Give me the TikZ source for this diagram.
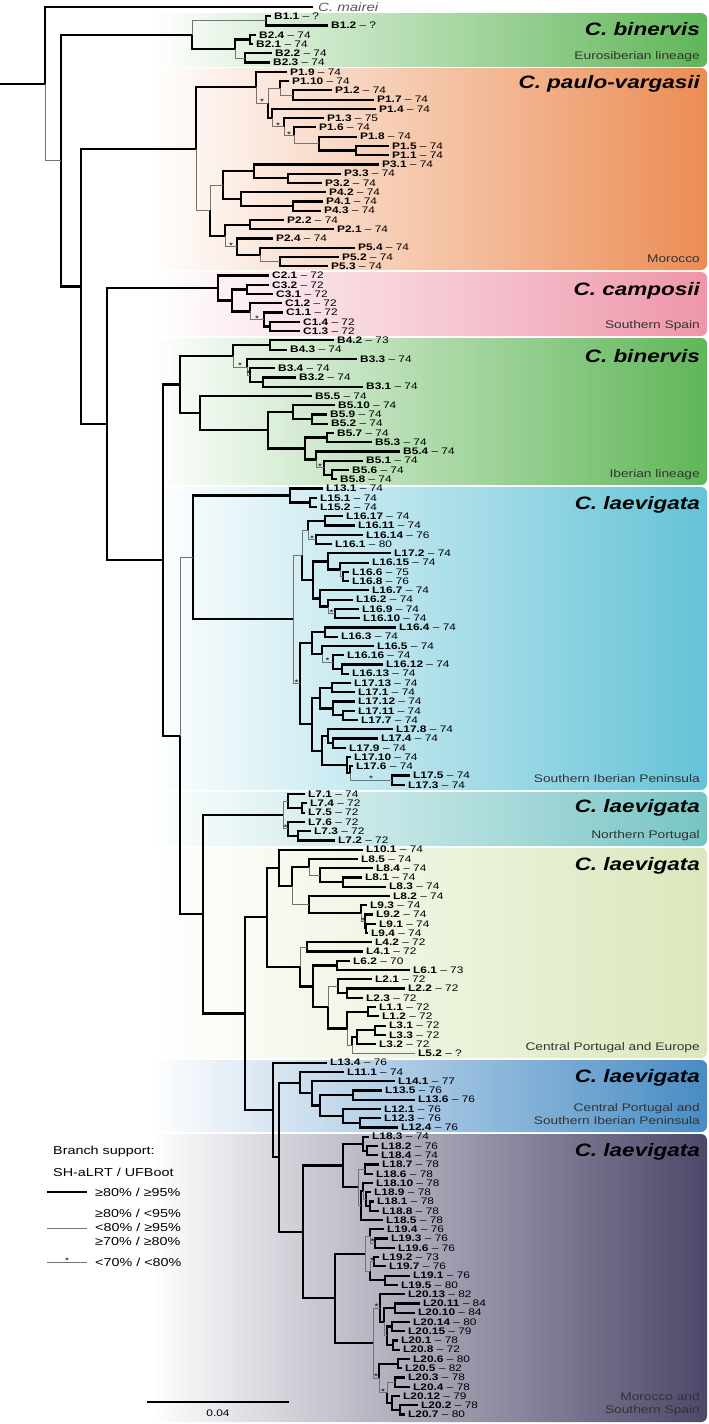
\documentclass[tikz,border=0pt]{standalone}
\usepackage{fontspec}
\setmainfont{Liberation Sans}[FakeStretch=1.25]
\usetikzlibrary{calc, positioning}

\definecolor{eurogreen}{RGB}{96,182,88}
\definecolor{paulo}{RGB}{236,140,84}
\definecolor{campo}{RGB}{238,150,170}
\definecolor{ibergreen}{RGB}{96,182,88}
\definecolor{laesouth}{RGB}{100,195,215}
\definecolor{laenorth}{RGB}{118,196,196}
\definecolor{laecentre}{RGB}{218,232,188}
\definecolor{laeblue}{RGB}{72,140,196}
\definecolor{laemor}{RGB}{76,72,106}

% tip: name, x of branch end, row, label, value
\newcommand\tip[5]{%
  \coordinate (#1) at (#2,{7+9.26*#3});
  \node[tiplab] (#1-l) at (#1) {\textbf{#4} -- #5};}
% clade: name, x, first child, its branch, second child, its branch
\newcommand\clade[6]{%
  \path let \p1=(#3), \p2=(#5) in coordinate (#1) at (#2pt,{(\y1+\y2)/2});
  \draw[#4] (#1) |- (#3);
  \draw[#6] (#1) |- (#5);}
% low support mark on the branch from #1 to #2
\newcommand\supp[2]{\node[supp] (#2-s) at ($(#2 -| #1)!.5!(#2)$) {*};}

\begin{document}
\begin{tikzpicture}[x=1pt, y=-1pt,
  strong/.style={line width=2.2pt, black},
  weak/.style={line width=0.8pt, draw=black!55},
  tiplab/.style={anchor=west, inner sep=0pt, xshift=3pt, font=\fontsize{9.5}{10}\selectfont},
  supp/.style={inner sep=0pt, yshift=1pt, font=\fontsize{8}{8}\selectfont},
  band/.style={left color=white, right color=#1, rounded corners=6pt},
  cladetitle/.style={anchor=east, inner sep=0pt, font=\bfseries\itshape\fontsize{18}{18}\selectfont},
  cladearea/.style={anchor=east, inner sep=0pt, align=right, text=black!80, font=\fontsize{11}{13}\selectfont},
  legtext/.style={anchor=west, inner sep=0pt, align=left, font=\fontsize{11.5}{14}\selectfont}
]
\useasboundingbox (0,0) rectangle (709,1424);

% Bands
\shade[band=eurogreen] (150,13) rectangle (707,67);
\shade[band=paulo] (150,68) rectangle (707,270);
\shade[band=campo] (150,272) rectangle (707,336);
\shade[band=ibergreen] (150,338) rectangle (707,485);
\shade[band=laesouth] (150,487) rectangle (707,790);
\shade[band=laenorth] (150,792) rectangle (707,846);
\shade[band=laecentre] (150,848) rectangle (707,1058);
\shade[band=laeblue] (150,1060) rectangle (707,1132);
\shade[band=laemor] (150,1134) rectangle (707,1422);

\node[cladetitle] (t1) at (700,29) {C. binervis};
\node[cladearea] (a1) at (700,57) {Eurosiberian lineage};
\node[cladetitle] (t2) at (700,84) {C. paulo-vargasii};
\node[cladearea] (a2) at (700,259) {Morocco};
\node[cladetitle] (t3) at (700,291) {C. camposii};
\node[cladearea] (a3) at (700,326) {Southern Spain};
\node[cladetitle] (t4) at (700,356) {C. binervis};
\node[cladearea] (a4) at (700,475) {Iberian lineage};
\node[cladetitle] (t5) at (700,505) {C. laevigata};
\node[cladearea] (a5) at (700,779) {Southern Iberian Peninsula};
\node[cladetitle] (t6) at (700,808) {C. laevigata};
\node[cladearea] (a6) at (700,836) {Northern Portugal};
\node[cladetitle] (t7) at (700,866) {C. laevigata};
\node[cladearea] (a7) at (700,1048) {Central Portugal and Europe};
\node[cladetitle] (t8) at (700,1078) {C. laevigata};
\node[cladearea] (a8) at (700,1114) {Central Portugal and\\Southern Iberian Peninsula};
\node[cladetitle] (t9) at (700,1152) {C. laevigata};
\node[cladearea] (a9) at (700,1404) {Morocco and\\Southern Spain};

% Tips
\coordinate (mai) at (313,7);
\node[anchor=west, inner sep=0pt, text=black!65, font=\itshape\fontsize{12}{12}\selectfont] (mai-l) at ([xshift=5pt]mai) {C. mairei};
\tip{B1-1}{271}{1}{B1.1}{?}
\tip{B1-2}{328}{2}{B1.2}{?}
\tip{B2-4}{256}{3}{B2.4}{74}
\tip{B2-1}{253}{4}{B2.1}{74}
\tip{B2-2}{272}{5}{B2.2}{74}
\tip{B2-3}{270}{6}{B2.3}{74}
\tip{P1-9}{287}{7}{P1.9}{74}
\tip{P1-10}{289}{8}{P1.10}{74}
\tip{P1-2}{332}{9}{P1.2}{74}
\tip{P1-7}{374}{10}{P1.7}{74}
\tip{P1-4}{376}{11}{P1.4}{74}
\tip{P1-3}{324}{12}{P1.3}{75}
\tip{P1-6}{316}{13}{P1.6}{74}
\tip{P1-8}{357}{14}{P1.8}{74}
\tip{P1-5}{389}{15}{P1.5}{74}
\tip{P1-1}{389}{16}{P1.1}{74}
\tip{P3-1}{379}{17}{P3.1}{74}
\tip{P3-3}{341}{18}{P3.3}{74}
\tip{P3-2}{322}{19}{P3.2}{74}
\tip{P4-2}{326}{20}{P4.2}{74}
\tip{P4-1}{323}{21}{P4.1}{74}
\tip{P4-3}{321}{22}{P4.3}{74}
\tip{P2-2}{284}{23}{P2.2}{74}
\tip{P2-1}{334}{24}{P2.1}{74}
\tip{P2-4}{273}{25}{P2.4}{74}
\tip{P5-4}{355}{26}{P5.4}{74}
\tip{P5-2}{339}{27}{P5.2}{74}
\tip{P5-3}{328}{28}{P5.3}{74}
\tip{C2-1}{269}{29}{C2.1}{72}
\tip{C3-2}{269}{30}{C3.2}{72}
\tip{C3-1}{273}{31}{C3.1}{72}
\tip{C1-2}{282}{32}{C1.2}{72}
\tip{C1-1}{283}{33}{C1.1}{72}
\tip{C1-4}{300}{34}{C1.4}{72}
\tip{C1-3}{300}{35}{C1.3}{72}
\tip{B4-2}{334}{36}{B4.2}{73}
\tip{B4-3}{287}{37}{B4.3}{74}
\tip{B3-3}{357}{38}{B3.3}{74}
\tip{B3-4}{275}{39}{B3.4}{74}
\tip{B3-2}{296}{40}{B3.2}{74}
\tip{B3-1}{363}{41}{B3.1}{74}
\tip{B5-5}{312}{42}{B5.5}{74}
\tip{B5-10}{335}{43}{B5.10}{74}
\tip{B5-9}{327}{44}{B5.9}{74}
\tip{B5-2}{328}{45}{B5.2}{74}
\tip{B5-7}{334}{46}{B5.7}{74}
\tip{B5-3}{372}{47}{B5.3}{74}
\tip{B5-4}{400}{48}{B5.4}{74}
\tip{B5-1}{363}{49}{B5.1}{74}
\tip{B5-6}{349}{50}{B5.6}{74}
\tip{B5-8}{337}{51}{B5.8}{74}
\tip{L13-1}{323}{52}{L13.1}{74}
\tip{L15-1}{317}{53}{L15.1}{74}
\tip{L15-2}{317}{54}{L15.2}{74}
\tip{L16-17}{343}{55}{L16.17}{74}
\tip{L16-11}{355}{56}{L16.11}{74}
\tip{L16-14}{363}{57}{L16.14}{76}
\tip{L16-1}{332}{58}{L16.1}{80}
\tip{L17-2}{391}{59}{L17.2}{74}
\tip{L16-15}{369}{60}{L16.15}{74}
\tip{L16-6}{349}{61}{L16.6}{75}
\tip{L16-8}{349}{62}{L16.8}{76}
\tip{L16-7}{369}{63}{L16.7}{74}
\tip{L16-2}{353}{64}{L16.2}{74}
\tip{L16-9}{359}{65}{L16.9}{74}
\tip{L16-10}{360}{66}{L16.10}{74}
\tip{L16-4}{396}{67}{L16.4}{74}
\tip{L16-3}{338}{68}{L16.3}{74}
\tip{L16-5}{374}{69}{L16.5}{74}
\tip{L16-16}{344}{70}{L16.16}{74}
\tip{L16-12}{383}{71}{L16.12}{74}
\tip{L16-13}{349}{72}{L16.13}{74}
\tip{L17-13}{351}{73}{L17.13}{74}
\tip{L17-1}{355}{74}{L17.1}{74}
\tip{L17-12}{355}{75}{L17.12}{74}
\tip{L17-11}{355}{76}{L17.11}{74}
\tip{L17-7}{358}{77}{L17.7}{74}
\tip{L17-8}{393}{78}{L17.8}{74}
\tip{L17-4}{378}{79}{L17.4}{74}
\tip{L17-9}{346}{80}{L17.9}{74}
\tip{L17-10}{351}{81}{L17.10}{74}
\tip{L17-6}{353}{82}{L17.6}{74}
\tip{L17-5}{410}{83}{L17.5}{74}
\tip{L17-3}{405}{84}{L17.3}{74}
\tip{L7-1}{305}{85}{L7.1}{74}
\tip{L7-4}{307}{86}{L7.4}{72}
\tip{L7-5}{305}{87}{L7.5}{72}
\tip{L7-6}{305}{88}{L7.6}{72}
\tip{L7-3}{311}{89}{L7.3}{72}
\tip{L7-2}{335}{90}{L7.2}{72}
\tip{L10-1}{363}{91}{L10.1}{74}
\tip{L8-5}{358}{92}{L8.5}{74}
\tip{L8-4}{373}{93}{L8.4}{74}
\tip{L8-1}{362}{94}{L8.1}{74}
\tip{L8-3}{386}{95}{L8.3}{74}
\tip{L8-2}{390}{96}{L8.2}{74}
\tip{L9-3}{367}{97}{L9.3}{74}
\tip{L9-2}{373}{98}{L9.2}{74}
\tip{L9-1}{376}{99}{L9.1}{74}
\tip{L9-4}{368}{100}{L9.4}{74}
\tip{L4-2}{372}{101}{L4.2}{72}
\tip{L4-1}{363}{102}{L4.1}{72}
\tip{L6-2}{350}{103}{L6.2}{70}
\tip{L6-1}{410}{104}{L6.1}{73}
\tip{L2-1}{372}{105}{L2.1}{72}
\tip{L2-2}{405}{106}{L2.2}{72}
\tip{L2-3}{363}{107}{L2.3}{72}
\tip{L1-1}{376}{108}{L1.1}{72}
\tip{L1-2}{379}{109}{L1.2}{72}
\tip{L3-1}{386}{110}{L3.1}{72}
\tip{L3-3}{386}{111}{L3.3}{72}
\tip{L3-2}{376}{112}{L3.2}{72}
\tip{L5-2}{415}{113}{L5.2}{?}
\tip{L13-4}{327}{114}{L13.4}{76}
\tip{L11-1}{344}{115}{L11.1}{74}
\tip{L14-1}{395}{116}{L14.1}{77}
\tip{L13-5}{382}{117}{L13.5}{76}
\tip{L13-6}{415}{118}{L13.6}{76}
\tip{L12-1}{381}{119}{L12.1}{76}
\tip{L12-3}{381}{120}{L12.3}{76}
\tip{L12-4}{398}{121}{L12.4}{76}
\tip{L18-3}{369}{122}{L18.3}{74}
\tip{L18-2}{378}{123}{L18.2}{76}
\tip{L18-4}{378}{124}{L18.4}{74}
\tip{L18-7}{379}{125}{L18.7}{78}
\tip{L18-6}{373}{126}{L18.6}{78}
\tip{L18-10}{373}{127}{L18.10}{78}
\tip{L18-9}{371}{128}{L18.9}{78}
\tip{L18-1}{374}{129}{L18.1}{78}
\tip{L18-8}{379}{130}{L18.8}{78}
\tip{L18-5}{383}{131}{L18.5}{78}
\tip{L19-4}{384}{132}{L19.4}{76}
\tip{L19-3}{388}{133}{L19.3}{76}
\tip{L19-6}{395}{134}{L19.6}{76}
\tip{L19-2}{379}{135}{L19.2}{73}
\tip{L19-7}{386}{136}{L19.7}{76}
\tip{L19-1}{410}{137}{L19.1}{76}
\tip{L19-5}{398}{138}{L19.5}{80}
\tip{L20-13}{405}{139}{L20.13}{82}
\tip{L20-11}{420}{140}{L20.11}{84}
\tip{L20-10}{415}{141}{L20.10}{84}
\tip{L20-14}{410}{142}{L20.14}{80}
\tip{L20-15}{405}{143}{L20.15}{79}
\tip{L20-1}{398}{144}{L20.1}{78}
\tip{L20-8}{400}{145}{L20.8}{72}
\tip{L20-6}{410}{146}{L20.6}{80}
\tip{L20-5}{402}{147}{L20.5}{82}
\tip{L20-3}{405}{148}{L20.3}{78}
\tip{L20-4}{410}{149}{L20.4}{78}
\tip{L20-12}{400}{150}{L20.12}{79}
\tip{L20-2}{418}{151}{L20.2}{78}
\tip{L20-7}{405}{152}{L20.7}{80}

% Clades: Eurosiberian C. binervis
\clade{nB1}{266}{B1-1}{strong}{B1-2}{strong}
\clade{nB2a}{250}{B2-4}{strong}{B2-1}{strong}
\clade{nB2b}{245}{B2-2}{strong}{B2-3}{strong}
\clade{nB2}{235}{nB2a}{strong}{nB2b}{weak}
\clade{nBE}{192}{nB1}{weak}{nB2}{strong}

% C. paulo-vargasii
\clade{nP1c}{293}{P1-2}{strong}{P1-7}{strong}
\clade{nP1b}{280}{P1-10}{strong}{nP1c}{weak}
\clade{nP1h}{356}{P1-5}{strong}{P1-1}{strong}
\clade{nP1g}{319}{P1-8}{strong}{nP1h}{strong}
\clade{nP1f}{294}{P1-6}{strong}{nP1g}{weak}
\clade{nP1e}{284}{P1-3}{strong}{nP1f}{weak}
\clade{nP1d}{272}{P1-4}{strong}{nP1e}{weak}
\clade{nP1a}{268}{nP1b}{weak}{nP1d}{strong}
\clade{nP1}{256}{P1-9}{strong}{nP1a}{weak}
\clade{nP33}{288}{P3-3}{strong}{P3-2}{strong}
\clade{nP3}{254}{P3-1}{strong}{nP33}{strong}
\clade{nP41}{293}{P4-1}{strong}{P4-3}{strong}
\clade{nP4}{241}{P4-2}{strong}{nP41}{strong}
\clade{nP34}{223}{nP3}{strong}{nP4}{strong}
\clade{nP22}{250}{P2-2}{strong}{P2-1}{strong}
\clade{nP52}{280}{P5-2}{strong}{P5-3}{strong}
\clade{nP5}{260}{P5-4}{strong}{nP52}{weak}
\clade{nP24}{237}{P2-4}{strong}{nP5}{strong}
\clade{nP2}{225}{nP22}{strong}{nP24}{weak}
\clade{nP25}{210}{nP34}{weak}{nP2}{strong}
\clade{nP}{196}{nP1}{strong}{nP25}{weak}
\supp{nP1}{nP1a}
\supp{nP1d}{nP1e}
\supp{nP1e}{nP1f}
\supp{nP2}{nP24}

% C. camposii
\clade{nC32}{247}{C3-2}{strong}{C3-1}{strong}
\clade{nC14}{270}{C1-4}{strong}{C1-3}{strong}
\clade{nC1b}{264}{C1-1}{strong}{nC14}{strong}
\clade{nC1}{250}{C1-2}{strong}{nC1b}{weak}
\clade{nC2}{232}{nC32}{strong}{nC1}{strong}
\clade{nC}{218}{C2-1}{strong}{nC2}{strong}
\supp{nC1}{nC1b}

% Iberian C. binervis
\clade{nB4}{270}{B4-2}{strong}{B4-3}{strong}
\clade{nB32}{263}{B3-2}{strong}{B3-1}{strong}
\clade{nB3b}{250}{B3-4}{strong}{nB32}{strong}
\clade{nB3}{247}{B3-3}{strong}{nB3b}{weak}
\clade{nB34}{233}{nB4}{strong}{nB3}{weak}
\clade{nB5d}{312}{B5-9}{strong}{B5-2}{strong}
\clade{nB5c}{293}{B5-10}{strong}{nB5d}{strong}
\clade{nB57}{327}{B5-7}{strong}{B5-3}{strong}
\clade{nB56}{332}{B5-6}{strong}{B5-8}{strong}
\clade{nB5g}{324}{B5-1}{strong}{nB56}{strong}
\clade{nB5f}{316}{B5-4}{strong}{nB5g}{weak}
\clade{nB5e}{305}{nB57}{strong}{nB5f}{strong}
\clade{nB5b}{268}{nB5c}{strong}{nB5e}{strong}
\clade{nB5}{200}{B5-5}{strong}{nB5b}{strong}
\clade{nBI}{180}{nB34}{strong}{nB5}{strong}
\supp{nB34}{nB3}
\supp{nB3}{nB3b}
\supp{nB5f}{nB5g}

% C. laevigata, Southern Iberian Peninsula
\clade{nL15}{310}{L15-1}{strong}{L15-2}{strong}
\clade{nL1315}{290}{L13-1}{strong}{nL15}{strong}
\clade{nL16x}{325}{L16-17}{strong}{L16-11}{strong}
\clade{nL1614}{316}{L16-14}{strong}{L16-1}{strong}
\clade{nL16c}{308}{nL16x}{strong}{nL1614}{weak}
\clade{nL166}{343}{L16-6}{strong}{L16-8}{strong}
\clade{nL1615}{340}{L16-15}{strong}{nL166}{weak}
\clade{nL172}{328}{L17-2}{strong}{nL1615}{strong}
\clade{nL169}{335}{L16-9}{strong}{L16-10}{strong}
\clade{nL162}{328}{L16-2}{strong}{nL169}{weak}
\clade{nL167}{320}{L16-7}{strong}{nL162}{strong}
\clade{nL16d}{313}{nL172}{strong}{nL167}{strong}
\clade{nL16a}{302}{nL16c}{weak}{nL16d}{strong}
\clade{nL164}{325}{L16-4}{strong}{L16-3}{strong}
\clade{nL1612}{342}{L16-12}{strong}{L16-13}{strong}
\clade{nL1616}{333}{L16-16}{strong}{nL1612}{strong}
\clade{nL165}{322}{L16-5}{strong}{nL1616}{weak}
\clade{nL16e}{312}{nL164}{strong}{nL165}{strong}
\clade{nL1713}{332}{L17-13}{strong}{L17-1}{strong}
\clade{nL1711}{343}{L17-11}{strong}{L17-7}{strong}
\clade{nL1712}{333}{L17-12}{strong}{nL1711}{strong}
\clade{nL17a}{320}{nL1713}{strong}{nL1712}{strong}
\clade{nL174}{333}{L17-4}{strong}{L17-9}{strong}
\clade{nL178}{328}{L17-8}{strong}{nL174}{strong}
\clade{nL175}{392}{L17-5}{strong}{L17-3}{strong}
\clade{nL176}{350}{L17-6}{strong}{nL175}{weak}
\clade{nL1710}{347}{L17-10}{strong}{nL176}{strong}
\clade{nL17b}{322}{nL178}{strong}{nL1710}{strong}
\clade{nL17}{312}{nL17a}{strong}{nL17b}{strong}
\clade{nL16b}{300}{nL16e}{strong}{nL17}{strong}
\clade{nL1617}{293}{nL16a}{weak}{nL16b}{weak}
\clade{nLS}{193}{nL1315}{strong}{nL1617}{strong}
\supp{nL16c}{nL1614}
\supp{nL162}{nL169}
\supp{nL165}{nL1616}
\supp{nL176}{nL175}
\supp{nL1617}{nL16b}

% C. laevigata, Northern Portugal
\clade{nL74}{302}{L7-4}{strong}{L7-5}{strong}
\clade{nL71}{288}{L7-1}{strong}{nL74}{strong}
\clade{nL73}{298}{L7-3}{strong}{L7-2}{strong}
\clade{nL76}{288}{L7-6}{strong}{nL73}{strong}
\clade{nL7}{283}{nL71}{weak}{nL76}{weak}
\supp{nL7}{nL76}

% C. laevigata, Central Portugal and Europe
\clade{nL81}{343}{L8-1}{strong}{L8-3}{strong}
\clade{nL84}{320}{L8-4}{strong}{nL81}{strong}
\clade{nL8}{309}{L8-5}{strong}{nL84}{weak}
\clade{nL91}{366}{L9-1}{strong}{L9-4}{strong}
\clade{nL92}{365}{L9-2}{strong}{nL91}{strong}
\clade{nL93}{361}{L9-3}{strong}{nL92}{weak}
\clade{nL9}{309}{L8-2}{strong}{nL93}{strong}
\clade{nL89}{292}{nL8}{strong}{nL9}{weak}
\clade{nL10}{279}{L10-1}{strong}{nL89}{strong}
\clade{nL4}{307}{L4-2}{strong}{L4-1}{strong}
\clade{nL6}{337}{L6-2}{strong}{L6-1}{strong}
\clade{nL22}{347}{L2-2}{strong}{L2-3}{strong}
\clade{nL2}{338}{L2-1}{strong}{nL22}{strong}
\clade{nL1}{368}{L1-1}{strong}{L1-2}{strong}
\clade{nL31}{375}{L3-1}{strong}{L3-3}{strong}
\clade{nL3}{357}{nL31}{strong}{L3-2}{strong}
\clade{nL35}{352}{nL3}{strong}{L5-2}{weak}
\clade{nL13}{347}{nL1}{strong}{nL35}{weak}
\clade{nL23}{328}{nL2}{weak}{nL13}{strong}
\clade{nL63}{313}{nL6}{strong}{nL23}{strong}
\clade{nL43}{300}{nL4}{weak}{nL63}{strong}
\clade{nLC}{267}{nL10}{strong}{nL43}{strong}
\supp{nL93}{nL92}

% C. laevigata, Central Portugal and Southern Iberian Peninsula
\clade{nL13b}{353}{L13-5}{strong}{L13-6}{strong}
\clade{nL123}{360}{L12-3}{strong}{L12-4}{strong}
\clade{nL12}{343}{L12-1}{strong}{nL123}{strong}
\clade{nLe}{320}{nL13b}{strong}{nL12}{strong}
\clade{nLd}{312}{L14-1}{strong}{nLe}{strong}
\clade{nLc}{300}{L11-1}{strong}{nLd}{strong}

% C. laevigata, Morocco and Southern Spain
\clade{nL182}{367}{L18-2}{strong}{L18-4}{strong}
\clade{nL183}{363}{L18-3}{strong}{nL182}{strong}
\clade{nL1876}{365}{L18-7}{strong}{L18-6}{strong}
\clade{nL181}{370}{L18-1}{strong}{L18-8}{strong}
\clade{nL189}{366}{L18-9}{strong}{nL181}{strong}
\clade{nL1810}{363}{L18-10}{strong}{nL189}{weak}
\clade{nL185}{361}{nL1810}{strong}{L18-5}{strong}
\clade{nL187}{358}{nL1876}{weak}{nL185}{weak}
\clade{nL18}{343}{nL183}{strong}{nL187}{strong}
\clade{nL193}{375}{L19-3}{strong}{L19-6}{strong}
\clade{nL194}{370}{L19-4}{strong}{nL193}{weak}
\clade{nL1927}{374}{L19-2}{strong}{L19-7}{strong}
\clade{nL191}{385}{L19-1}{strong}{L19-5}{strong}
\clade{nL192}{370}{nL1927}{weak}{nL191}{strong}
\clade{nL19}{365}{nL194}{weak}{nL192}{weak}
\clade{nL2011}{395}{L20-11}{strong}{L20-10}{strong}
\clade{nL2014}{392}{L20-14}{strong}{L20-15}{strong}
\clade{nL201}{393}{L20-1}{strong}{L20-8}{strong}
\clade{nL20e}{387}{nL2014}{strong}{nL201}{strong}
\clade{nL20d}{384}{nL2011}{strong}{nL20e}{weak}
\clade{nL20a}{380}{L20-13}{strong}{nL20d}{strong}
\clade{nL206}{398}{L20-6}{strong}{L20-5}{strong}
\clade{nL2034}{395}{L20-3}{strong}{L20-4}{strong}
\clade{nL202}{400}{L20-2}{strong}{L20-7}{strong}
\clade{nL2012}{392}{L20-12}{strong}{nL202}{strong}
\clade{nL203}{387}{nL2034}{weak}{nL2012}{strong}
\clade{nL20b}{379}{nL206}{strong}{nL203}{weak}
\clade{nL20}{373}{nL20a}{weak}{nL20b}{weak}
\clade{nL1920}{335}{nL19}{strong}{nL20}{strong}
\clade{nLM}{303}{nL18}{strong}{nL1920}{strong}
\supp{nL194}{nL193}
\supp{nL192}{nL1927}
\supp{nL20}{nL20a}
\supp{nL20}{nL20b}
\supp{nL20b}{nL203}

% Backbone
\clade{n279}{279}{nLc}{strong}{nLM}{strong}
\clade{n273}{273}{L13-4}{strong}{n279}{strong}
\clade{n245}{245}{nLC}{strong}{n273}{strong}
\clade{n203}{203}{nL7}{strong}{n245}{strong}
\clade{n180}{180}{nLS}{weak}{n203}{strong}
\clade{n163}{163}{nBI}{strong}{n180}{strong}
\clade{n107}{107}{nC}{strong}{n163}{strong}
\clade{n82}{81}{nP}{strong}{n107}{strong}
\clade{nIn}{61}{nBE}{strong}{n82}{strong}
\clade{nR}{45}{mai}{strong}{nIn}{weak}
\coordinate (stub) at (nR -| 0,0);
\draw[strong] (stub) -- (nR);

% Legend
\node[legtext] (leg-head) at (53,1152) {Branch support:};
\node[legtext] (leg-sub) at (53,1172) {SH-aLRT / UFBoot};
\coordinate (k1a) at (47,1192); \coordinate (k1b) at (87,1192);
\coordinate (k2a) at (47,1228); \coordinate (k2b) at (87,1228);
\coordinate (k3a) at (47,1262); \coordinate (k3b) at (87,1262);
\draw[strong] (k1a) -- (k1b);
\draw[weak] (k2a) -- (k2b);
\draw[weak] (k3a) -- (k3b);
\node[supp] (k3-s) at ($(k3a)!.5!(k3b)$) {*};
\node[legtext] (k1-t) at (95,1192) {≥80\% / ≥95\%};
\node[legtext] (k2-t) at (95,1227) {≥80\% / <95\%\\<80\% / ≥95\%\\≥70\% / ≥80\%};
\node[legtext] (k3-t) at (95,1262) {<70\% / <80\%};

% Scale bar
\coordinate (sb-l) at (147,1402); \coordinate (sb-r) at (289,1402);
\draw[line width=1.6pt] (sb-l) -- (sb-r);
\node[inner sep=0pt, font=\fontsize{9.5}{10}\selectfont] (sb-t) at (218,1413) {0.04};
\end{tikzpicture}
\end{document}
